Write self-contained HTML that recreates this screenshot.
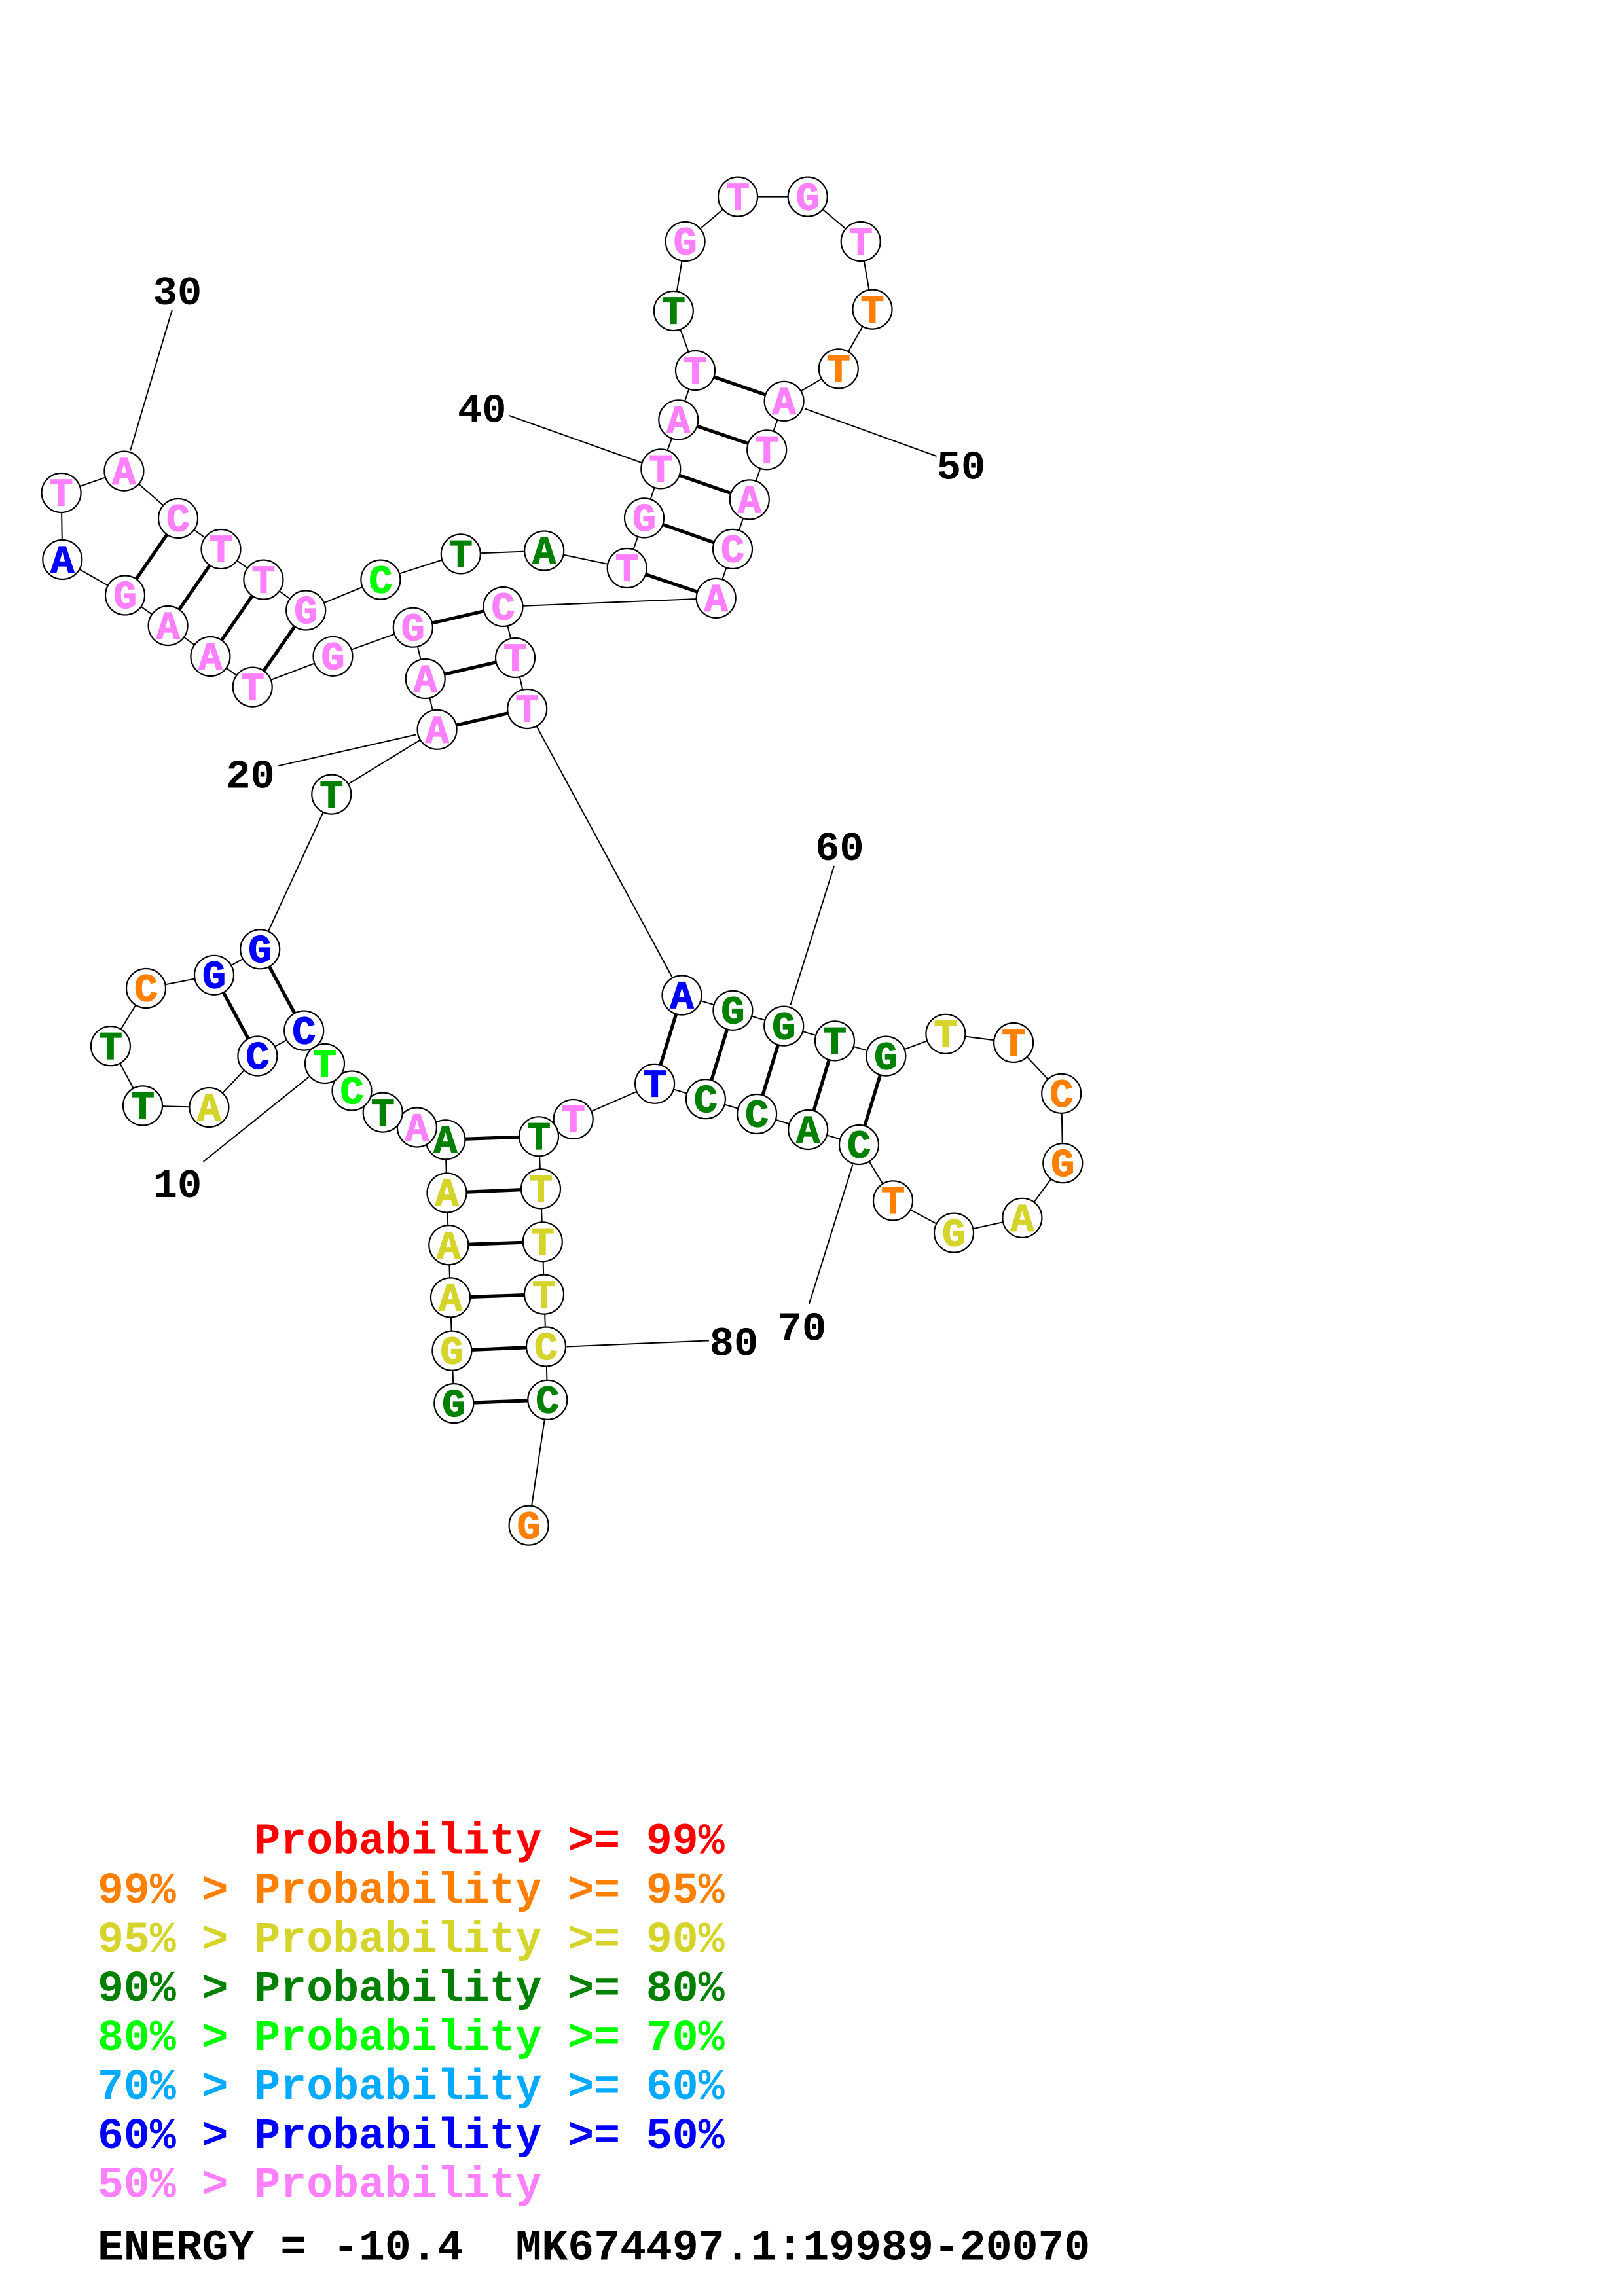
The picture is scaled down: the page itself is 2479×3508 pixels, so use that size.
<!DOCTYPE html>
<html><head><meta charset="utf-8"><style>
html,body{margin:0;padding:0;background:#fff;}
svg{display:block;}
.n circle{fill:#fff;stroke:#000;stroke-width:2.2;}
.n text{font-family:"Liberation Mono",monospace;font-weight:bold;font-size:60px;text-anchor:middle;stroke-width:1.3;}
.n text.p{stroke:#FF80FF}.n text.g{stroke:#008000}.n text.l{stroke:#00FF00}.n text.b{stroke:#0000FF}.n text.o{stroke:#FF8000}.n text.y{stroke:#D4D42A}
.lbl{font-family:"Liberation Mono",monospace;font-weight:bold;font-size:62px;text-anchor:middle;fill:#000;}
.lg{font-family:"Liberation Mono",monospace;font-weight:bold;font-size:66.5px;}
.p{fill:#FF80FF}.g{fill:#008000}.l{fill:#00FF00}.b{fill:#0000FF}.o{fill:#FF8000}.y{fill:#D4D42A}.r{fill:#FF0000}.c{fill:#00AAFF}.k{fill:#000}
</style></head><body>
<svg width="2479" height="3508" viewBox="0 0 2479 3508" xmlns="http://www.w3.org/2000/svg">
<rect x="0" y="0" width="2479" height="3508" fill="#fff"/>
<polyline fill="none" stroke="#000" stroke-width="2" points="693.3,2144.1 690.4,2063.7 688,1982.4 685.3,1902.2 682.5,1822.5 680.4,1741.3 636.9,1722.5 584.7,1699.6 537.5,1666.5 496,1625 464.2,1574.6 393.4,1613.5 319.4,1692 218,1689.4 168.9,1598.2 223,1510 327,1489.8 397.2,1450.3 506.3,1213.6 667.6,1114.8 649.7,1037 630.8,958.7 508.5,1002.8 385.7,1049.6 321.4,1003 256.6,956 191,909.5 95.3,855 93.6,753 189.4,719.6 272,792 337.5,839 402.4,885.6 467.2,932.5 581.4,885.6 703.8,846.4 831.2,841.5 957.7,868 984,791.4 1009.3,716.4 1036.3,641.4 1062,566 1028.8,475 1046.6,369 1127,300.6 1233.7,300.6 1314.7,369 1332.5,472.6 1280.8,563.4 1197.6,612.9 1171.2,687.3 1144.8,763.4 1119,838.9 1093.7,913.9 768.5,927 787,1005 805.2,1083 1041.5,1520.5 1119.4,1543.8 1197.2,1567.6 1275,1590.4 1353.3,1613.6 1444.4,1579.8 1548.1,1593 1621.2,1670.8 1623.3,1777.2 1561.4,1860.8 1457,1883.6 1364,1834.4 1312,1749 1234.2,1726 1156.1,1702 1077.9,1679.2 1000.1,1655.8 875.7,1710 823,1736.3 826,1816.4 828.8,1897.3 831,1977.6 834,2057.5 836.3,2138.8 807.6,2330.6"/>
<g stroke="#000" stroke-width="5.2">
<line x1="693.3" y1="2144.1" x2="836.3" y2="2138.8"/>
<line x1="690.4" y1="2063.7" x2="834" y2="2057.5"/>
<line x1="688" y1="1982.4" x2="831" y2="1977.6"/>
<line x1="685.3" y1="1902.2" x2="828.8" y2="1897.3"/>
<line x1="682.5" y1="1822.5" x2="826" y2="1816.4"/>
<line x1="680.4" y1="1741.3" x2="823" y2="1736.3"/>
<line x1="464.2" y1="1574.6" x2="397.2" y2="1450.3"/>
<line x1="393.4" y1="1613.5" x2="327" y2="1489.8"/>
<line x1="667.6" y1="1114.8" x2="805.2" y2="1083"/>
<line x1="649.7" y1="1037" x2="787" y2="1005"/>
<line x1="630.8" y1="958.7" x2="768.5" y2="927"/>
<line x1="385.7" y1="1049.6" x2="467.2" y2="932.5"/>
<line x1="321.4" y1="1003" x2="402.4" y2="885.6"/>
<line x1="256.6" y1="956" x2="337.5" y2="839"/>
<line x1="191" y1="909.5" x2="272" y2="792"/>
<line x1="957.7" y1="868" x2="1093.7" y2="913.9"/>
<line x1="984" y1="791.4" x2="1119" y2="838.9"/>
<line x1="1009.3" y1="716.4" x2="1144.8" y2="763.4"/>
<line x1="1036.3" y1="641.4" x2="1171.2" y2="687.3"/>
<line x1="1062" y1="566" x2="1197.6" y2="612.9"/>
<line x1="1041.5" y1="1520.5" x2="1000.1" y2="1655.8"/>
<line x1="1119.4" y1="1543.8" x2="1077.9" y2="1679.2"/>
<line x1="1197.2" y1="1567.6" x2="1156.1" y2="1702"/>
<line x1="1275" y1="1590.4" x2="1234.2" y2="1726"/>
<line x1="1353.3" y1="1613.6" x2="1312" y2="1749"/>
</g>
<g stroke="#000" stroke-width="2">
<line x1="310.5" y1="1774.9" x2="471.8" y2="1645.4"/>
<line x1="424.6" y1="1170.3" x2="635.7" y2="1122.4"/>
<line x1="263" y1="473" x2="199" y2="688.5"/>
<line x1="777.6" y1="634.9" x2="980" y2="707"/>
<line x1="1229.7" y1="624.6" x2="1430.6" y2="697"/>
<line x1="1274" y1="1323" x2="1207.3" y2="1535.8"/>
<line x1="1302.5" y1="1779.3" x2="1235.8" y2="1992.6"/>
<line x1="865.5" y1="2057.5" x2="1083" y2="2048.4"/>
</g>
<g class="lbl">
<text x="271" y="1829">10</text>
<text x="382.5" y="1203.5">20</text>
<text x="271" y="465">30</text>
<text x="736.2" y="644.5">40</text>
<text x="1468" y="731.3">50</text>
<text x="1282.4" y="1314">60</text>
<text x="1225" y="2047.5">70</text>
<text x="1121" y="2070.5">80</text>
</g>
<g class="n">
<circle cx="693.3" cy="2144.1" r="30"/><text class="g" x="693.3" y="2163.8">G</text>
<circle cx="690.4" cy="2063.7" r="30"/><text class="y" x="690.4" y="2083.4">G</text>
<circle cx="688" cy="1982.4" r="30"/><text class="y" x="688" y="2002.1">A</text>
<circle cx="685.3" cy="1902.2" r="30"/><text class="y" x="685.3" y="1921.9">A</text>
<circle cx="682.5" cy="1822.5" r="30"/><text class="y" x="682.5" y="1842.2">A</text>
<circle cx="680.4" cy="1741.3" r="30"/><text class="g" x="680.4" y="1761">A</text>
<circle cx="636.9" cy="1722.5" r="30"/><text class="p" x="636.9" y="1742.2">A</text>
<circle cx="584.7" cy="1699.6" r="30"/><text class="g" x="584.7" y="1719.3">T</text>
<circle cx="537.5" cy="1666.5" r="30"/><text class="l" x="537.5" y="1686.2">C</text>
<circle cx="496" cy="1625" r="30"/><text class="l" x="496" y="1644.7">T</text>
<circle cx="464.2" cy="1574.6" r="30"/><text class="b" x="464.2" y="1594.3">C</text>
<circle cx="393.4" cy="1613.5" r="30"/><text class="b" x="393.4" y="1633.2">C</text>
<circle cx="319.4" cy="1692" r="30"/><text class="y" x="319.4" y="1711.7">A</text>
<circle cx="218" cy="1689.4" r="30"/><text class="g" x="218" y="1709.1">T</text>
<circle cx="168.9" cy="1598.2" r="30"/><text class="g" x="168.9" y="1617.9">T</text>
<circle cx="223" cy="1510" r="30"/><text class="o" x="223" y="1529.7">C</text>
<circle cx="327" cy="1489.8" r="30"/><text class="b" x="327" y="1509.5">G</text>
<circle cx="397.2" cy="1450.3" r="30"/><text class="b" x="397.2" y="1470">G</text>
<circle cx="506.3" cy="1213.6" r="30"/><text class="g" x="506.3" y="1233.3">T</text>
<circle cx="667.6" cy="1114.8" r="30"/><text class="p" x="667.6" y="1134.5">A</text>
<circle cx="649.7" cy="1037" r="30"/><text class="p" x="649.7" y="1056.7">A</text>
<circle cx="630.8" cy="958.7" r="30"/><text class="p" x="630.8" y="978.4">G</text>
<circle cx="508.5" cy="1002.8" r="30"/><text class="p" x="508.5" y="1022.5">G</text>
<circle cx="385.7" cy="1049.6" r="30"/><text class="p" x="385.7" y="1069.3">T</text>
<circle cx="321.4" cy="1003" r="30"/><text class="p" x="321.4" y="1022.7">A</text>
<circle cx="256.6" cy="956" r="30"/><text class="p" x="256.6" y="975.7">A</text>
<circle cx="191" cy="909.5" r="30"/><text class="p" x="191" y="929.2">G</text>
<circle cx="95.3" cy="855" r="30"/><text class="b" x="95.3" y="874.7">A</text>
<circle cx="93.6" cy="753" r="30"/><text class="p" x="93.6" y="772.7">T</text>
<circle cx="189.4" cy="719.6" r="30"/><text class="p" x="189.4" y="739.3">A</text>
<circle cx="272" cy="792" r="30"/><text class="p" x="272" y="811.7">C</text>
<circle cx="337.5" cy="839" r="30"/><text class="p" x="337.5" y="858.7">T</text>
<circle cx="402.4" cy="885.6" r="30"/><text class="p" x="402.4" y="905.3">T</text>
<circle cx="467.2" cy="932.5" r="30"/><text class="p" x="467.2" y="952.2">G</text>
<circle cx="581.4" cy="885.6" r="30"/><text class="l" x="581.4" y="905.3">C</text>
<circle cx="703.8" cy="846.4" r="30"/><text class="g" x="703.8" y="866.1">T</text>
<circle cx="831.2" cy="841.5" r="30"/><text class="g" x="831.2" y="861.2">A</text>
<circle cx="957.7" cy="868" r="30"/><text class="p" x="957.7" y="887.7">T</text>
<circle cx="984" cy="791.4" r="30"/><text class="p" x="984" y="811.1">G</text>
<circle cx="1009.3" cy="716.4" r="30"/><text class="p" x="1009.3" y="736.1">T</text>
<circle cx="1036.3" cy="641.4" r="30"/><text class="p" x="1036.3" y="661.1">A</text>
<circle cx="1062" cy="566" r="30"/><text class="p" x="1062" y="585.7">T</text>
<circle cx="1028.8" cy="475" r="30"/><text class="g" x="1028.8" y="494.7">T</text>
<circle cx="1046.6" cy="369" r="30"/><text class="p" x="1046.6" y="388.7">G</text>
<circle cx="1127" cy="300.6" r="30"/><text class="p" x="1127" y="320.3">T</text>
<circle cx="1233.7" cy="300.6" r="30"/><text class="p" x="1233.7" y="320.3">G</text>
<circle cx="1314.7" cy="369" r="30"/><text class="p" x="1314.7" y="388.7">T</text>
<circle cx="1332.5" cy="472.6" r="30"/><text class="o" x="1332.5" y="492.3">T</text>
<circle cx="1280.8" cy="563.4" r="30"/><text class="o" x="1280.8" y="583.1">T</text>
<circle cx="1197.6" cy="612.9" r="30"/><text class="p" x="1197.6" y="632.6">A</text>
<circle cx="1171.2" cy="687.3" r="30"/><text class="p" x="1171.2" y="707">T</text>
<circle cx="1144.8" cy="763.4" r="30"/><text class="p" x="1144.8" y="783.1">A</text>
<circle cx="1119" cy="838.9" r="30"/><text class="p" x="1119" y="858.6">C</text>
<circle cx="1093.7" cy="913.9" r="30"/><text class="p" x="1093.7" y="933.6">A</text>
<circle cx="768.5" cy="927" r="30"/><text class="p" x="768.5" y="946.7">C</text>
<circle cx="787" cy="1005" r="30"/><text class="p" x="787" y="1024.7">T</text>
<circle cx="805.2" cy="1083" r="30"/><text class="p" x="805.2" y="1102.7">T</text>
<circle cx="1041.5" cy="1520.5" r="30"/><text class="b" x="1041.5" y="1540.2">A</text>
<circle cx="1119.4" cy="1543.8" r="30"/><text class="g" x="1119.4" y="1563.5">G</text>
<circle cx="1197.2" cy="1567.6" r="30"/><text class="g" x="1197.2" y="1587.3">G</text>
<circle cx="1275" cy="1590.4" r="30"/><text class="g" x="1275" y="1610.1">T</text>
<circle cx="1353.3" cy="1613.6" r="30"/><text class="g" x="1353.3" y="1633.3">G</text>
<circle cx="1444.4" cy="1579.8" r="30"/><text class="y" x="1444.4" y="1599.5">T</text>
<circle cx="1548.1" cy="1593" r="30"/><text class="o" x="1548.1" y="1612.7">T</text>
<circle cx="1621.2" cy="1670.8" r="30"/><text class="o" x="1621.2" y="1690.5">C</text>
<circle cx="1623.3" cy="1777.2" r="30"/><text class="o" x="1623.3" y="1796.9">G</text>
<circle cx="1561.4" cy="1860.8" r="30"/><text class="y" x="1561.4" y="1880.5">A</text>
<circle cx="1457" cy="1883.6" r="30"/><text class="y" x="1457" y="1903.3">G</text>
<circle cx="1364" cy="1834.4" r="30"/><text class="o" x="1364" y="1854.1">T</text>
<circle cx="1312" cy="1749" r="30"/><text class="g" x="1312" y="1768.7">C</text>
<circle cx="1234.2" cy="1726" r="30"/><text class="g" x="1234.2" y="1745.7">A</text>
<circle cx="1156.1" cy="1702" r="30"/><text class="g" x="1156.1" y="1721.7">C</text>
<circle cx="1077.9" cy="1679.2" r="30"/><text class="g" x="1077.9" y="1698.9">C</text>
<circle cx="1000.1" cy="1655.8" r="30"/><text class="b" x="1000.1" y="1675.5">T</text>
<circle cx="875.7" cy="1710" r="30"/><text class="p" x="875.7" y="1729.7">T</text>
<circle cx="823" cy="1736.3" r="30"/><text class="g" x="823" y="1756">T</text>
<circle cx="826" cy="1816.4" r="30"/><text class="y" x="826" y="1836.1">T</text>
<circle cx="828.8" cy="1897.3" r="30"/><text class="y" x="828.8" y="1917">T</text>
<circle cx="831" cy="1977.6" r="30"/><text class="y" x="831" y="1997.3">T</text>
<circle cx="834" cy="2057.5" r="30"/><text class="y" x="834" y="2077.2">C</text>
<circle cx="836.3" cy="2138.8" r="30"/><text class="g" x="836.3" y="2158.5">C</text>
<circle cx="807.6" cy="2330.6" r="30"/><text class="o" x="807.6" y="2350.3">G</text>
</g>
<g class="lg">
<text class="r" y="2831.4"><tspan x="388.4">Probability</tspan><tspan x="867.2">&gt;=</tspan><tspan x="986.9">99%</tspan></text>
<text class="o" y="2907.2"><tspan x="149">99%</tspan><tspan x="308.6">&gt;</tspan><tspan x="388.4">Probability</tspan><tspan x="867.2">&gt;=</tspan><tspan x="986.9">95%</tspan></text>
<text class="y" y="2982"><tspan x="149">95%</tspan><tspan x="308.6">&gt;</tspan><tspan x="388.4">Probability</tspan><tspan x="867.2">&gt;=</tspan><tspan x="986.9">90%</tspan></text>
<text class="g" y="3056.9"><tspan x="149">90%</tspan><tspan x="308.6">&gt;</tspan><tspan x="388.4">Probability</tspan><tspan x="867.2">&gt;=</tspan><tspan x="986.9">80%</tspan></text>
<text class="l" y="3132"><tspan x="149">80%</tspan><tspan x="308.6">&gt;</tspan><tspan x="388.4">Probability</tspan><tspan x="867.2">&gt;=</tspan><tspan x="986.9">70%</tspan></text>
<text class="c" y="3207"><tspan x="149">70%</tspan><tspan x="308.6">&gt;</tspan><tspan x="388.4">Probability</tspan><tspan x="867.2">&gt;=</tspan><tspan x="986.9">60%</tspan></text>
<text class="b" y="3282"><tspan x="149">60%</tspan><tspan x="308.6">&gt;</tspan><tspan x="388.4">Probability</tspan><tspan x="867.2">&gt;=</tspan><tspan x="986.9">50%</tspan></text>
<text class="p" y="3356.7"><tspan x="149">50%</tspan><tspan x="308.6">&gt;</tspan><tspan x="388.4">Probability</tspan></text>
<text class="k" y="3452.7"><tspan x="149">ENERGY</tspan><tspan x="428.3">=</tspan><tspan x="508.1">-10.4</tspan><tspan x="787.4">MK674497.1:19989-20070</tspan></text>
</g>
</svg>
</body></html>
